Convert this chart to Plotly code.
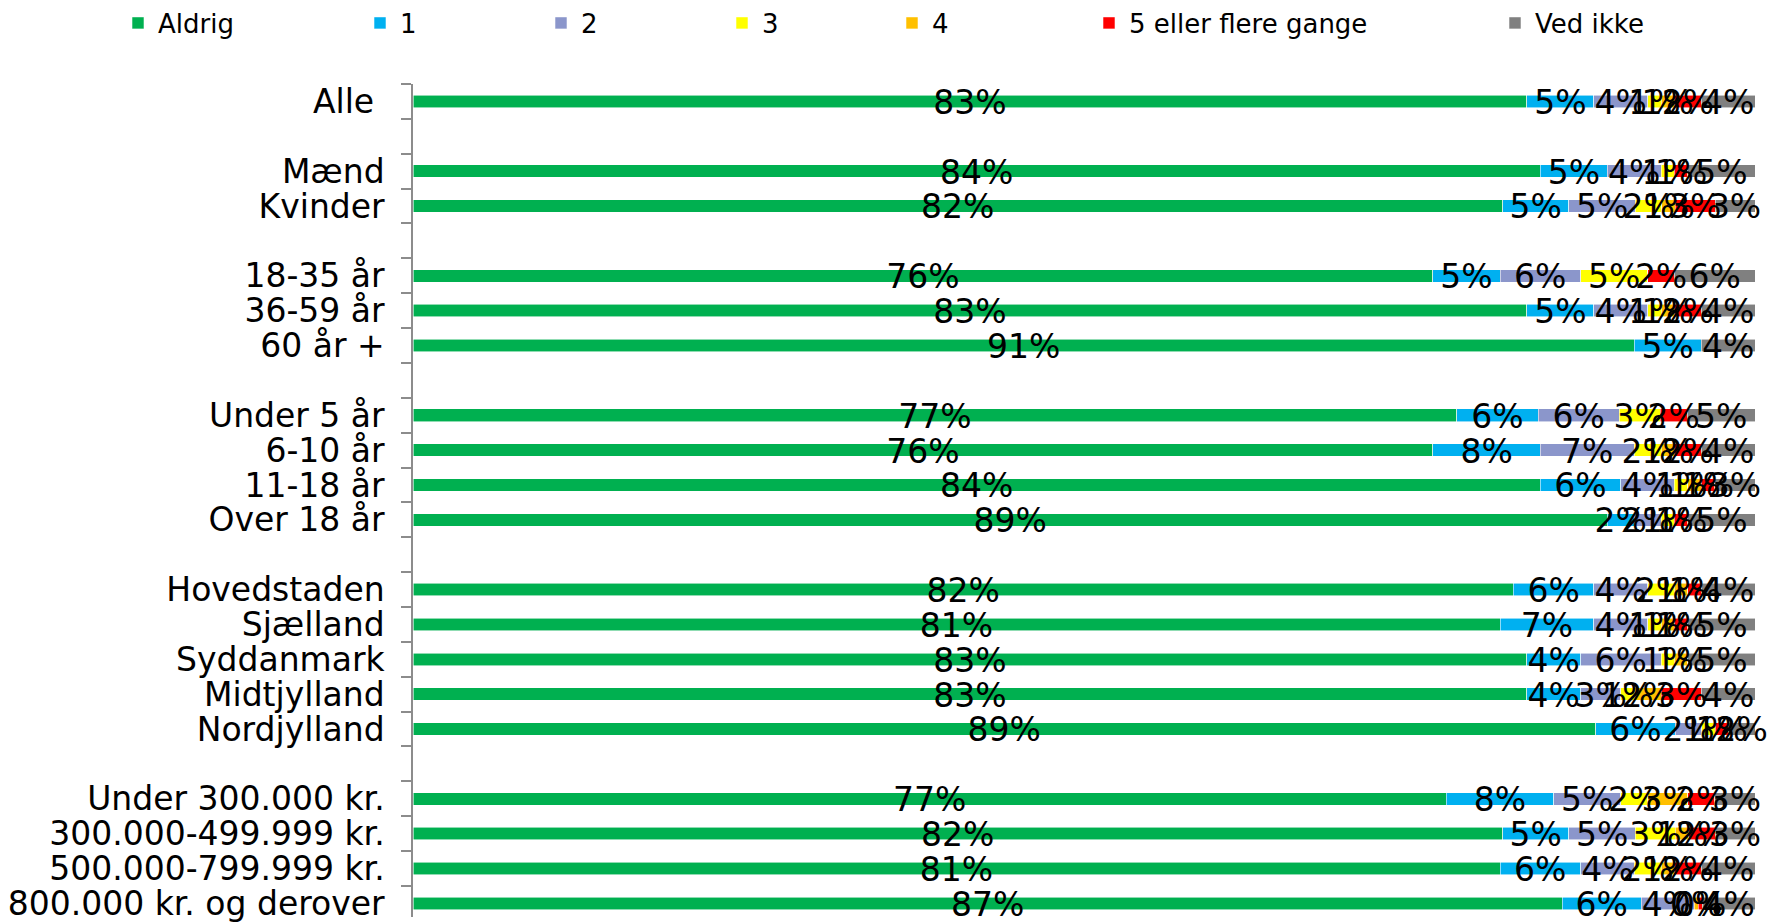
import plotly.graph_objects as go

categories = ["Alle\u00a0", " ", "Mænd", "Kvinder", "  ", "18-35 år", "36-59 år", "60 år +", "   ",
              "Under 5 år", "6-10 år", "11-18 år", "Over 18 år", "    ",
              "Hovedstaden", "Sjælland", "Syddanmark", "Midtjylland", "Nordjylland", "     ",
              "Under 300.000 kr.", "300.000-499.999 kr.", "500.000-799.999 kr.", "800.000 kr. og derover"]

series_names = ["Aldrig", "1", "2", "3", "4", "5 eller flere gange", "Ved ikke"]
series_colors = ["#00B050", "#00B0F0", "#8B96CB", "#FFFF00", "#FFC000", "#FF0000", "#808080"]

N = None
aldrig   = [83, N, 84, 82, N, 76, 83, 91, N, 77, 76, 84, 89, N, 82, 81, 83, 83, 89, N, 77, 82, 81, 87]
en       = [5, N, 5, 5, N, 5, 5, 5, N, 6, 8, 6, 2, N, 6, 7, 4, 4, 6, N, 8, 5, 6, 6]
to       = [4, N, 4, 5, N, 6, 4, 0, N, 6, 7, 4, 2, N, 4, 4, 6, 3, 2, N, 5, 5, 4, 4]
tre      = [1, N, 1, 2, N, 5, 1, 0, N, 3, 2, 1, 1, N, 2, 1, 1, 1, 1, N, 2, 3, 2, 0]
fire     = [1, N, 0, 1, N, 0, 1, 0, N, 0, 1, 1, 0, N, 1, 1, 1, 2, 0, N, 3, 1, 1, 0.3]
fem_plus = [2, N, 1, 3, N, 2, 2, 0, N, 2, 2, 1, 1, N, 1, 1, 0, 3, 1, N, 2, 2, 2, 0.3]
ved_ikke = [4, N, 5, 3, N, 6, 4, 4, N, 5, 4, 3, 5, N, 4, 5, 5, 4, 2, N, 3, 3, 4, 4]

series_values = [aldrig, en, to, tre, fire, fem_plus, ved_ikke]

# legend marker left edges (px) in the reference
legend_x_px = [133, 375, 556, 737, 907, 1104, 1510]

W, H = 1769, 923
FONT = "DejaVu Sans"
LABEL_SHIFT = 0.12   # fraction of a row the data labels sit below the bar centre
VISIBLE_ROWS = 23.89 # the chart continues slightly past the bottom edge of the image

# row totals for 100% stacking
totals = []
for r in range(len(categories)):
    vals = [s[r] for s in series_values]
    totals.append(sum(v for v in vals if v is not None) if vals[0] is not None else None)

fig = go.Figure()
for i, (name, color, vals) in enumerate(zip(series_names, series_colors, series_values)):
    lname = "legend" if i == 0 else f"legend{i+1}"
    fig.add_trace(go.Bar(
        name=name, y=categories, x=vals, orientation="h",
        marker=dict(color=color, line=dict(color="rgba(255,255,255,0.7)", width=0.8)),
        legend=lname, hoverinfo="skip",
    ))

# data labels, centred in each stacked segment (positions derived from the data)
for i, (name, vals) in enumerate(zip(series_names, series_values)):
    xs, ys, ts = [], [], []
    for r, cat in enumerate(categories):
        v = vals[r]
        if v is None or v == 0:
            continue
        start = sum(series_values[k][r] for k in range(i))
        xs.append((start + v / 2) / totals[r] * 100)
        ys.append(cat)
        ts.append(f"{round(v)}%")
    fig.add_trace(go.Scatter(
        x=xs, y=ys, text=ts, mode="text", showlegend=False, hoverinfo="skip",
        textposition="middle center", cliponaxis=False, yaxis="y2",
        textfont=dict(family=FONT, size=33, color="black"),
    ))

layout_legends = {}
for i, px in enumerate(legend_x_px):
    key = "legend" if i == 0 else f"legend{i+1}"
    layout_legends[key] = dict(
        x=(px - 15) / W, xref="container", xanchor="left",
        y=1 - 23 / H, yref="container", yanchor="middle",
        orientation="h", bgcolor="rgba(0,0,0,0)", borderwidth=0,
        font=dict(family=FONT, size=26, color="black"),
        itemclick=False,
    )

top = -0.5
bottom = top + VISIBLE_ROWS
fig.update_layout(
    width=W, height=H,
    barmode="stack", barnorm="percent", bargap=0.64,
    plot_bgcolor="white", paper_bgcolor="white",
    margin=dict(l=413, r=14, t=84, b=0, pad=0),
    showlegend=True,
    font=dict(family=FONT, color="black"),
    yaxis2=dict(type="category", categoryorder="array", categoryarray=categories,
                overlaying="y", visible=False, autorange=False,
                range=[bottom - LABEL_SHIFT, top - LABEL_SHIFT]),
    **layout_legends,
)
fig.update_xaxes(range=[0, 100], visible=False, showgrid=False, zeroline=False)
fig.update_yaxes(
    selector=dict(overlaying=None),
    type="category", categoryorder="array", categoryarray=categories,
    range=[bottom, top], autorange=False,
    tickmode="linear", tick0=0, dtick=1,
    tickson="boundaries", ticks="outside", ticklen=10,
    tickcolor="#8C8C8C", tickwidth=1.5, showline=True, linecolor="#8C8C8C", linewidth=1.5,
    showgrid=False, zeroline=False, ticklabelstandoff=20,
    tickfont=dict(family=FONT, size=33, color="black"),
)

fig.write_html("out.html", config={"displayModeBar": False},
               post_script="document.body.style.margin='0';")
